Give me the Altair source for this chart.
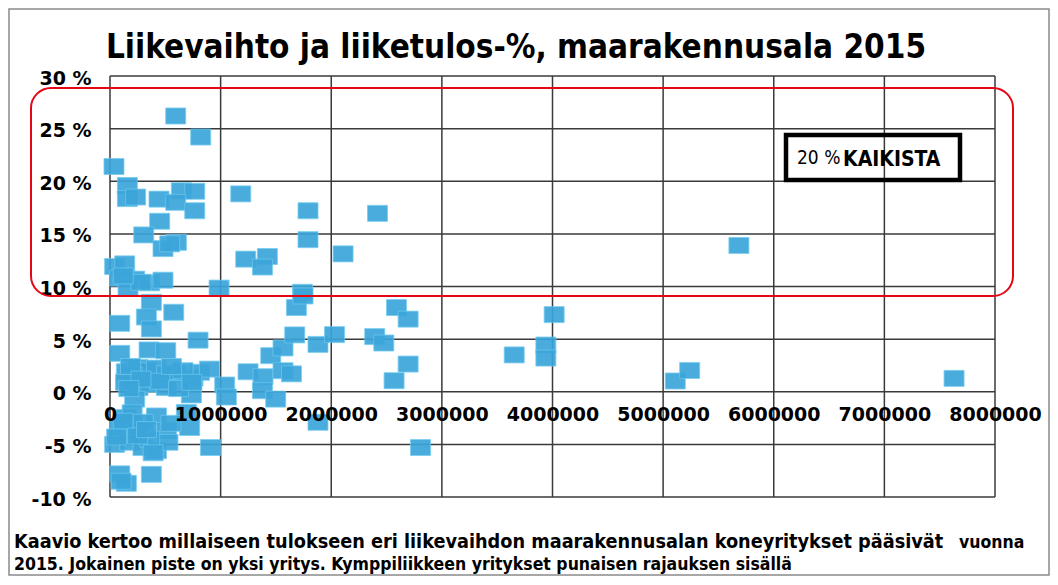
import altair as alt
import pandas as pd

# ---- data ----
revenue = [
    594000, 820000, 36000, 157000, 157000, 232000, 443000, 645000, 766000, 594000,
    766000, 1182000, 1790000, 449000, 305000, 600000, 479000, 540000, 1790000, 1227000,
    1423000, 1378000, 42000, 133000, 88000, 223000, 359000, 479000, 163000, 986000,
    1740000, 2107000, 2418000, 5685000, 280000, 120000,
    374000, 576000, 88000, 329000, 374000, 796000, 88000, 353000, 504000, 148000,
    253000, 329000, 420000, 510000, 600000, 750000, 810000, 900000, 253000, 359000,
    510000, 223000, 736000, 1037000, 1052000, 1248000, 1383000, 1378000, 1498000, 1453000,
    1564000, 1670000, 1564000, 1640000, 1685000, 1745000, 1880000, 2030000, 2393000, 2475000,
    2590000, 2695000, 2695000, 2568000, 4015000, 3940000, 3940000, 3654000, 5110000, 5240000,
    7630000, 200000, 140000, 450000, 620000, 660000, 185000, 280000, 170000, 740000, 555000,
    148000, 420000, 690000, 720000, 88000, 239000, 510000, 42000, 178000, 298000,
    420000, 524000, 359000, 908000, 88000, 148000, 374000, 1880000, 2807000, 200000,
    120000, 300000, 390000, 60000, 250000, 550000, 100000, 330000,
]
margin = [
    26.2, 24.2, 21.4, 19.6, 18.35, 18.5, 18.3, 19.1, 19.05, 18.0,
    17.2, 18.8, 17.2, 16.2, 14.9, 14.2, 13.6, 14.05, 14.45, 12.6,
    12.85, 11.85, 11.9, 12.15, 10.8, 10.7, 10.35, 10.6, 9.9, 9.85,
    9.45, 13.1, 16.95, 13.9, 10.4, 11.0,
    8.5, 7.55, 6.5, 7.1, 5.97, 4.9, 3.65, 3.97, 3.9, 1.9,
    2.3, 2.0, 2.25, 1.7, 1.7, 1.3, 1.85, 2.15, 0.4, 0.73,
    0.4, -0.7, -0.3, 0.64, -0.5, 1.9, 1.43, 0.1, -0.7, 3.43,
    4.16, 5.4, 2.0, 1.7, 8.0, 9.1, 4.5, 5.43, 5.24, 4.63,
    8.0, 6.9, 2.63, 1.05, 7.33, 4.44, 3.2, 3.5, 1.02, 2.02,
    1.27, 1.6, 0.9, 1.0, 0.3, 2.0, 2.4, 1.2, 0.3, 0.9, 2.4,
    -2.45, -2.3, -1.97, -3.4, -3.4, -3.7, -3.7, -5.0, -4.8, -5.3,
    -5.6, -4.8, -4.5, -5.3, -7.8, -8.7, -7.85, -2.9, -5.3, -2.0,
    -2.8, -2.9, -5.8, -4.3, -4.2, -3.0, -8.5, -3.6,
]
x_ticks = [0, 1000000, 2000000, 3000000, 4000000, 5000000, 6000000, 7000000, 8000000]
y_ticks = [-10, -5, 0, 5, 10, 15, 20, 25, 30]

title_text = "Liikevaihto ja liiketulos-%, maarakennusala 2015"
caption_1 = "Kaavio kertoo millaiseen tulokseen eri liikevaihdon maarakennusalan koneyritykset pääsivät"
caption_1b = "vuonna"
caption_2 = "2015. Jokainen piste on yksi yritys. Kymppiliikkeen yritykset punaisen rajauksen sisällä"
box_num = "20 %"
box_word = "KAIKISTA"

# ---- chart ----
W, H = 885, 421
NARROW = "DejaVu Sans Condensed"

xs = alt.Scale(domain=[0, 8000000], nice=False, zero=False)
ys = alt.Scale(domain=[-10, 30], nice=False, zero=False)

df = pd.DataFrame({"revenue": revenue, "margin": margin})
xdf = pd.DataFrame({"revenue": x_ticks})
ydf = pd.DataFrame({"margin": y_ticks})
one = pd.DataFrame({"k": [0]})

grid_color = "#3a3a3a"

vgrid = alt.Chart(xdf).mark_rule(color=grid_color, strokeWidth=1.5).encode(
    x=alt.X("revenue:Q", scale=xs),
    y=alt.value(0),
    y2=alt.value(H),
)
hgrid = alt.Chart(ydf).mark_rule(color=grid_color, strokeWidth=1.5).encode(
    y=alt.Y("margin:Q", scale=ys),
    x=alt.value(0),
    x2=alt.value(W),
)

box_shape = "M-1,-0.8H1V0.8H-1Z"
points = alt.Chart(df).mark_point(
    shape=box_shape, size=400, filled=True, fill="#3ba5da", opacity=0.92,
    stroke="#6cc9f0", strokeWidth=0.8,
).encode(
    x=alt.X("revenue:Q", scale=xs),
    y=alt.Y("margin:Q", scale=ys),
)

frame = alt.Chart(one).mark_rect(
    fillOpacity=0, stroke="#8a8a8a", strokeWidth=1.5
).encode(x=alt.value(-101), x2=alt.value(939), y=alt.value(-67), y2=alt.value(499))

red = alt.Chart(one).mark_rect(
    fillOpacity=0, stroke="#e30613", strokeWidth=2, cornerRadius=20
).encode(x=alt.value(-79), x2=alt.value(903), y=alt.value(12), y2=alt.value(220))

box = alt.Chart(one).mark_rect(
    fillOpacity=0, stroke="black", strokeWidth=4.5
).encode(x=alt.value(676), x2=alt.value(850), y=alt.value(59), y2=alt.value(104))

def label(txt, x, y, size, weight="normal", align="left", font=NARROW):
    return alt.Chart(pd.DataFrame({"t": [txt]})).mark_text(
        font=font, fontSize=size, fontWeight=weight, align=align,
        baseline="alphabetic", color="black",
    ).encode(x=alt.value(x), y=alt.value(y), text="t:N")

title = label(title_text, 406, -18, 33, "bold", "center")
cap1 = label(caption_1, -96, 472, 19.7, "bold")
cap1b = label(caption_1b, 849, 472, 17.5, "bold")
cap2 = label(caption_2, -96, 494, 17.5, "bold")
bnum = label(box_num, 687, 88, 19)
bword = label(box_word, 733, 90, 21, "bold")

chart = alt.layer(
    frame, vgrid, hgrid, points, red, box, bnum, bword, title, cap1, cap1b, cap2
).properties(
    width=W, height=H,
    autosize=alt.AutoSizeParams(type="none"),
    padding={"left": 102, "top": 68, "right": 55, "bottom": 79},
    background="white",
).encode(
    x=alt.X("revenue:Q", scale=xs, axis=alt.Axis(
        values=x_ticks, format="d", labelFont="DejaVu Sans", labelFontWeight="bold",
        labelFontSize=19, labelColor="black", domain=False, ticks=False, grid=False,
        offset=-106, labelPadding=14, labelOverlap=False, labelFlush=False,
        title=None, zindex=2)),
    y=alt.Y("margin:Q", scale=ys, axis=alt.Axis(
        values=y_ticks, labelExpr="datum.value + ' %'", labelFont="DejaVu Sans",
        labelFontWeight="bold", labelFontSize=19, labelColor="black", domain=False,
        ticks=False, grid=False, labelPadding=19, labelOffset=2, labelOverlap=False,
        labelFlush=False, title=None)),
).configure_view(strokeWidth=0)

chart.save("out.html", embed_options={"renderer": "svg", "actions": False})
